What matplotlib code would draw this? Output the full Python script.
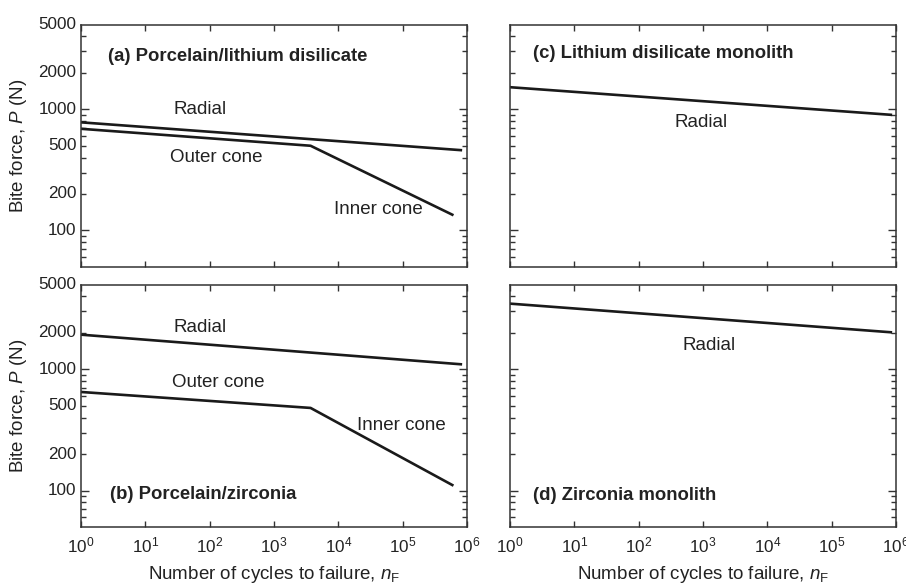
import numpy as np
import matplotlib.pyplot as plt
from matplotlib.ticker import FixedLocator, NullFormatter, LogLocator, LogFormatterSciNotation

plt.rcParams['font.family'] = ['Liberation Sans', 'DejaVu Sans']
plt.rcParams['mathtext.fontset'] = 'custom'
plt.rcParams['mathtext.rm'] = 'Liberation Sans'
plt.rcParams['mathtext.it'] = 'Liberation Sans:italic'
plt.rcParams['mathtext.default'] = 'regular'

# (a) porcelain / lithium disilicate
a_radial_n = [1, 8e5]
a_radial_p = [780, 460]
a_cone_n = [1, 3.7e3, 5.9e5]
a_cone_p = [690, 500, 135]

# (b) porcelain / zirconia
b_radial_n = [1, 8e5]
b_radial_p = [1930, 1100]
b_cone_n = [1, 3.7e3, 5.9e5]
b_cone_p = [650, 480, 111]

# (c) lithium disilicate monolith
c_radial_n = [1, 8.3e5]
c_radial_p = [1520, 900]

# (d) zirconia monolith
d_radial_n = [1, 8.3e5]
d_radial_p = [3480, 2020]

ytick_vals = [100, 200, 500, 1000, 2000, 5000]
ytick_labels = ['100', '200', '500', '1000', '2000', '5000']
ymajor = [100, 1000]
yminor = [60, 70, 80, 90, 200, 300, 400, 500, 600, 700, 800, 900, 2000, 3000, 4000]

fig = plt.figure(figsize=(9.06, 5.85), dpi=100)
w, h = 0.4261, 0.4145
ax_a = fig.add_axes([0.0894, 0.5436, w, h])
ax_b = fig.add_axes([0.0894, 0.0991, w, h])
ax_c = fig.add_axes([0.5629, 0.5436, w, h])
ax_d = fig.add_axes([0.5629, 0.0991, w, h])

lc = '#1a1a1a'
tc = '#222222'
lw = 1.9
fs_tick = 12.3
fs_txt = 13.5
fs_bold = 13.3

for ax in [ax_a, ax_b, ax_c, ax_d]:
    ax.set_xscale('log')
    ax.set_yscale('log')
    ax.set_xlim(1, 1e6)
    ax.set_ylim(50, 5000)
    ax.xaxis.set_major_locator(LogLocator(base=10, numticks=10))
    ax.xaxis.set_minor_locator(FixedLocator([]))
    ax.yaxis.set_major_locator(FixedLocator(ymajor))
    ax.yaxis.set_minor_locator(FixedLocator(yminor))
    ax.yaxis.set_major_formatter(NullFormatter())
    ax.yaxis.set_minor_formatter(NullFormatter())
    ax.tick_params(which='both', direction='in', top=True, right=True,
                   colors='#333333', labelcolor=tc, labelsize=fs_tick)
    ax.tick_params(axis='y', which='major', length=6, width=1)
    ax.tick_params(axis='y', which='minor', length=3.8, width=1)
    ax.tick_params(axis='x', which='major', length=4, width=1, pad=6)
    for s in ax.spines.values():
        s.set_color('#333333')
        s.set_linewidth(1.1)

# y labels on the left panels drawn as text so 200/500/2000/5000 are labelled too
for ax in [ax_a, ax_b]:
    for v, t in zip(ytick_vals, ytick_labels):
        ax.text(-0.012, v, t, transform=ax.get_yaxis_transform(), ha='right',
                va='center', fontsize=fs_tick, color=tc)
    ax.set_ylabel('Bite force, $\\mathit{P}$ (N)', fontsize=fs_txt, color=tc)
    ax.yaxis.set_label_coords(-0.135, 0.5)

for ax in [ax_a, ax_c]:
    ax.xaxis.set_major_formatter(NullFormatter())
for ax in [ax_b, ax_d]:
    ax.xaxis.set_major_formatter(LogFormatterSciNotation())
    ax.set_xlabel('Number of cycles to failure, $\\mathit{n}_\\mathrm{F}$', fontsize=fs_txt,
                  labelpad=6, color=tc)

# panel (a)
ax_a.plot(a_radial_n, a_radial_p, color=lc, lw=lw)
ax_a.plot(a_cone_n, a_cone_p, color=lc, lw=lw)
ax_a.text(0.07, 0.868, '(a) Porcelain/lithium disilicate', transform=ax_a.transAxes,
          fontsize=fs_bold, fontweight='bold', va='center', color=tc)
ax_a.text(27, 1000, 'Radial', fontsize=fs_txt, va='center', color=tc)
ax_a.text(24, 400, 'Outer cone', fontsize=fs_txt, va='center', color=tc)
ax_a.text(8.6e3, 150, 'Inner cone', fontsize=fs_txt, va='center', color=tc)

# panel (b)
ax_b.plot(b_radial_n, b_radial_p, color=lc, lw=lw)
ax_b.plot(b_cone_n, b_cone_p, color=lc, lw=lw)
ax_b.text(0.075, 0.136, '(b) Porcelain/zirconia', transform=ax_b.transAxes,
          fontsize=fs_bold, fontweight='bold', va='center', color=tc)
ax_b.text(27, 2230, 'Radial', fontsize=fs_txt, va='center', color=tc)
ax_b.text(26, 785, 'Outer cone', fontsize=fs_txt, va='center', color=tc)
ax_b.text(1.95e4, 345, 'Inner cone', fontsize=fs_txt, va='center', color=tc)

# panel (c)
ax_c.plot(c_radial_n, c_radial_p, color=lc, lw=lw)
ax_c.text(0.06, 0.88, '(c) Lithium disilicate monolith', transform=ax_c.transAxes,
          fontsize=fs_bold, fontweight='bold', va='center', color=tc)
ax_c.text(930, 775, 'Radial', fontsize=fs_txt, ha='center', va='center', color=tc)

# panel (d)
ax_d.plot(d_radial_n, d_radial_p, color=lc, lw=lw)
ax_d.text(0.06, 0.132, '(d) Zirconia monolith', transform=ax_d.transAxes,
          fontsize=fs_bold, fontweight='bold', va='center', color=tc)
ax_d.text(1260, 1580, 'Radial', fontsize=fs_txt, ha='center', va='center', color=tc)

plt.savefig('out.png', dpi=100)
